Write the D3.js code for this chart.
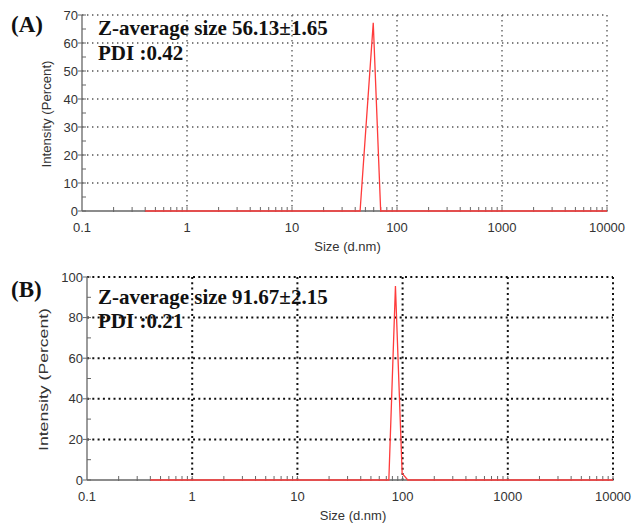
<!DOCTYPE html>
<html>
<head>
<meta charset="utf-8">
<script src="https://cdn.jsdelivr.net/npm/d3@7"></script>
<style>
  body { margin: 0; background: #fff; }
  svg { display: block; }
  .tick-label { font-family: Arial, "Liberation Sans", sans-serif; font-size: 13px; fill: #333; }
  .title { font-family: "Times New Roman", "Liberation Serif", serif; font-weight: bold; fill: #111; }
</style>
</head>
<body>
<svg id="chart" width="632" height="523"></svg>
<script>
// size bins (d.nm) and intensity (%)
const sizesA = [0.4, 44.5, 59.4, 69.9, 10000];
const intensityA = [0, 0, 67.2, 0, 0];
const sizesB = [0.4, 74, 85.5, 99, 112, 10000];
const intensityB = [0, 0, 95.5, 3.3, 0, 0];

const xTicks = [0.1, 1, 10, 100, 1000, 10000];
const yTicksA = [0, 10, 20, 30, 40, 50, 60, 70];
const yTicksB = [0, 20, 40, 60, 80, 100];

const panels = [
  { tag: '(A)', z: 'Z-average size 56.13±1.65', pdi: 'PDI :0.42',
    sizes: sizesA, vals: intensityA, yTicks: yTicksA, yMax: 70, minorStep: 5,
    x0: 82, x1: 607, yTop: 15, yBot: 211, tagY: 32, zY: 35, pdiY: 60,
    xlabY: 251, ylabX: 51, ylabLen: 107, grid: '#555', dash: '1.4,3.6', gw: 1.3 },
  { tag: '(B)', z: 'Z-average size 91.67±2.15', pdi: 'PDI :0.21',
    sizes: sizesB, vals: intensityB, yTicks: yTicksB, yMax: 100, minorStep: 10,
    x0: 87, x1: 613, yTop: 277, yBot: 480, tagY: 297, zY: 304, pdiY: 328,
    xlabY: 520, ylabX: 48, ylabLen: 143, grid: '#111', dash: '2,3.3', gw: 2 }
];

const svg = d3.select('#chart');

panels.forEach(p => {
  const x = d3.scaleLog().domain([0.1, 10000]).range([p.x0, p.x1]);
  const y = d3.scaleLinear().domain([0, p.yMax]).range([p.yBot, p.yTop]);
  const g = svg.append('g');

  // dotted grid
  g.selectAll('.hgrid').data(p.yTicks.slice(1)).enter().append('line')
    .attr('x1', p.x0).attr('x2', p.x1)
    .attr('y1', d => y(d)).attr('y2', d => y(d))
    .attr('stroke', p.grid).attr('stroke-width', p.gw)
    .attr('stroke-dasharray', p.dash);
  g.selectAll('.vgrid').data(xTicks.slice(1)).enter().append('line')
    .attr('x1', d => x(d)).attr('x2', d => x(d))
    .attr('y1', p.yTop).attr('y2', p.yBot)
    .attr('stroke', p.grid).attr('stroke-width', p.gw)
    .attr('stroke-dasharray', p.dash);

  // axes lines
  g.append('line').attr('x1', p.x0).attr('x2', p.x1).attr('y1', p.yBot).attr('y2', p.yBot)
    .attr('stroke', '#666').attr('stroke-width', 1.3);
  g.append('line').attr('x1', p.x0).attr('x2', p.x0).attr('y1', p.yTop).attr('y2', p.yBot)
    .attr('stroke', '#666').attr('stroke-width', 1.3);

  // y ticks (major + minor)
  const yMinor = d3.range(0, p.yMax + 0.01, p.minorStep);
  g.selectAll('.ytick').data(yMinor).enter().append('line')
    .attr('x1', d => p.yTicks.includes(d) ? p.x0 - 4 : p.x0)
    .attr('x2', p.x0 + 4)
    .attr('y1', d => y(d)).attr('y2', d => y(d))
    .attr('stroke', '#666').attr('stroke-width', 1);
  g.selectAll('.ylab').data(p.yTicks).enter().append('text')
    .attr('class', 'tick-label')
    .attr('x', p.x0 - 4).attr('y', d => y(d) + 4.5)
    .attr('text-anchor', 'end').text(d => d);

  // x ticks: decades + 2..9
  const xMinor = [];
  for (let e = -1; e < 4; e++) for (let k = 2; k <= 9; k++) xMinor.push(k * Math.pow(10, e));
  g.selectAll('.xtick').data(xMinor.concat(xTicks.slice(1))).enter().append('line')
    .attr('x1', d => x(d)).attr('x2', d => x(d))
    .attr('y1', p.yBot - 4).attr('y2', p.yBot + 1)
    .attr('stroke', '#666').attr('stroke-width', 1);
  g.selectAll('.xlab').data(xTicks).enter().append('text')
    .attr('class', 'tick-label')
    .attr('x', d => x(d)).attr('y', p.yBot + 21)
    .attr('text-anchor', 'middle').text(d => d);

  // axis titles
  g.append('text').attr('class', 'tick-label')
    .attr('x', (p.x0 + p.x1) / 2 + 3).attr('y', p.xlabY)
    .attr('text-anchor', 'middle').text('Size (d.nm)');
  g.append('text').attr('class', 'tick-label')
    .attr('transform', `translate(${p.ylabX},${(p.yTop + p.yBot) / 2 + 1}) rotate(-90)`)
    .attr('text-anchor', 'middle')
    .attr('textLength', p.ylabLen).attr('lengthAdjust', 'spacingAndGlyphs')
    .text('Intensity (Percent)');

  // distribution curve
  const line = d3.line().x((d, i) => x(p.sizes[i])).y(d => y(d));
  g.append('path').datum(p.vals)
    .attr('d', line).attr('fill', 'none')
    .attr('stroke', '#ff3b3b').attr('stroke-width', 1.3);

  // annotations
  g.append('text').attr('class', 'title').attr('x', 11).attr('y', p.tagY)
    .style('font-size', '23px').text(p.tag);
  g.append('text').attr('class', 'title').attr('x', 98).attr('y', p.zY)
    .style('font-size', '21px').text(p.z);
  g.append('text').attr('class', 'title').attr('x', 98).attr('y', p.pdiY)
    .style('font-size', '21px').text(p.pdi);
});
</script>
</body>
</html>
